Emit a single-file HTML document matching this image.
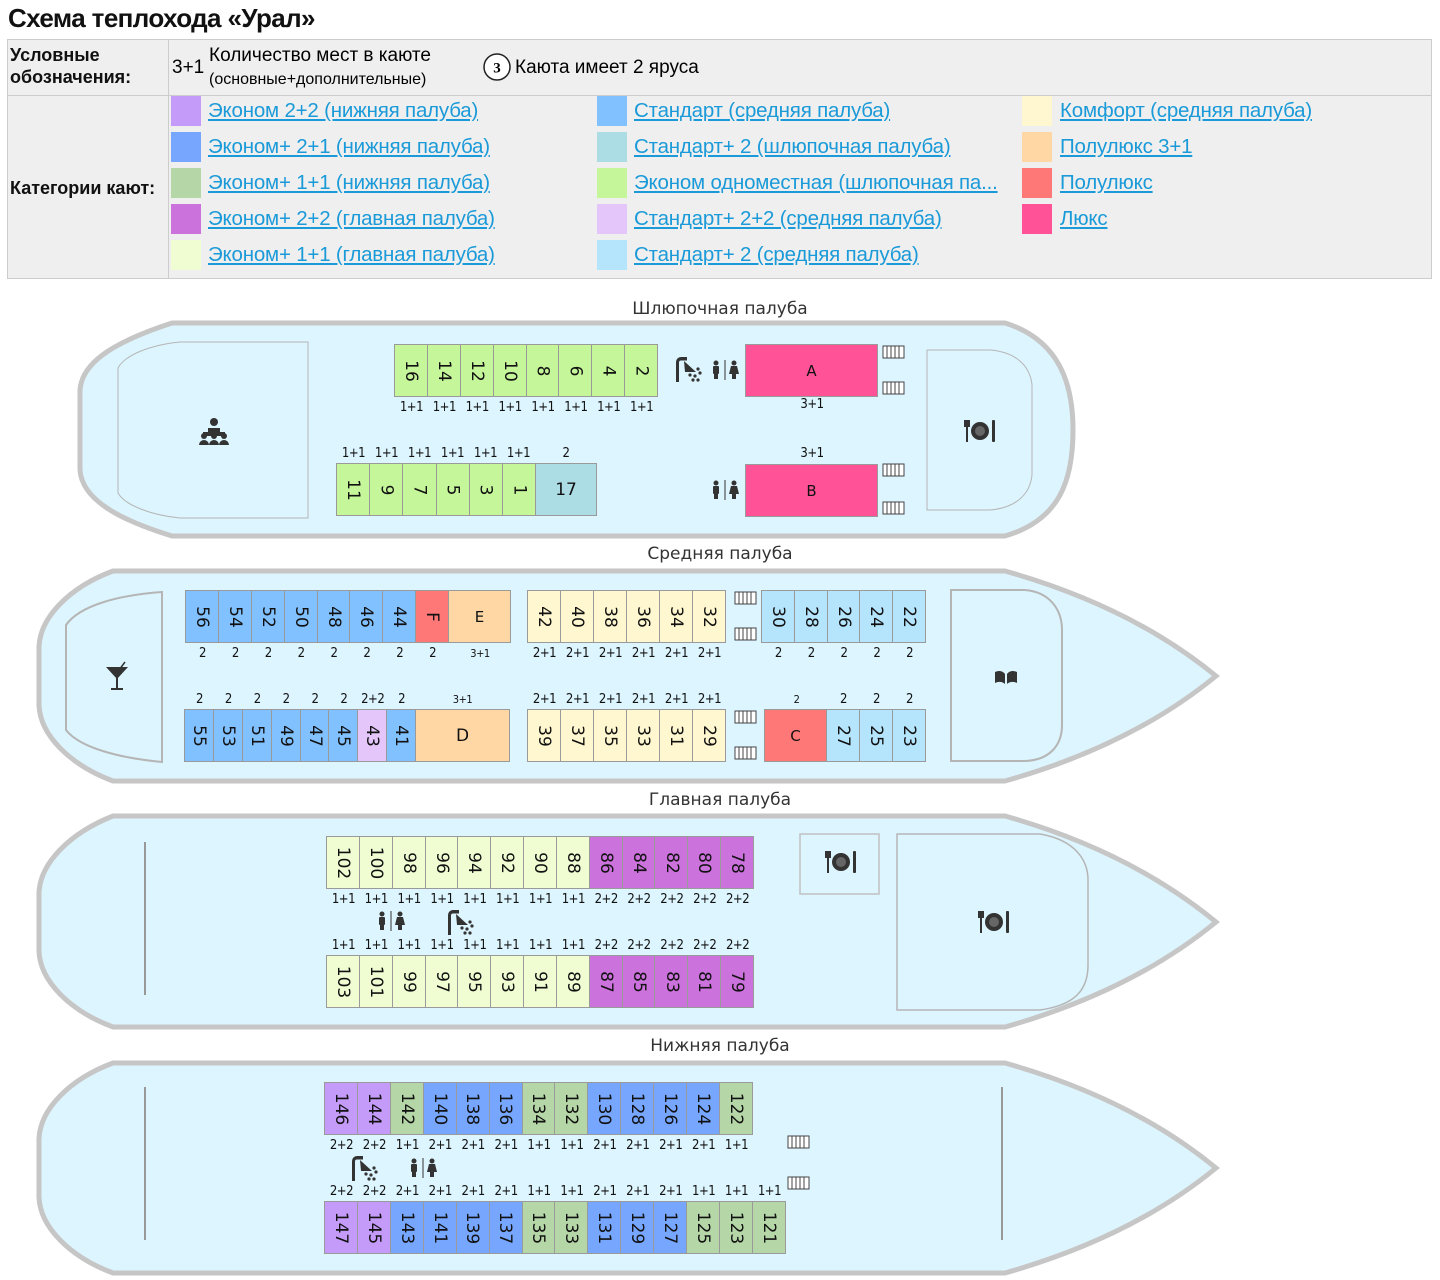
<!DOCTYPE html>
<html><head><meta charset="utf-8">
<style>
*{box-sizing:border-box;margin:0;padding:0}
body{width:1440px;height:1280px;background:#fff;position:relative;font-family:"Liberation Sans","DejaVu Sans",sans-serif;overflow:hidden}
.abs{position:absolute}
h1{position:absolute;left:8px;top:3px;font-size:26px;font-weight:bold;letter-spacing:-0.6px;color:#111}
.tbl{position:absolute;left:7px;top:39px;width:1425px;height:240px;background:#efefef;border:1px solid #ccc}
.hl{position:absolute;font-size:18px;font-weight:bold;color:#111;line-height:22px}
.lg{position:absolute;font-size:20.5px;color:#1a9ad8;text-decoration:underline;white-space:nowrap;letter-spacing:-0.2px}
.sw{position:absolute;width:30px;height:30px}
.row{position:absolute;display:flex;height:53px}
.row div{flex:1 1 0;border:1px solid #9a9a9a;margin-left:-1px;display:flex;align-items:center;justify-content:center;font:17px "DejaVu Sans",sans-serif;color:#111;overflow:hidden}
.row div span{display:inline-block;transform:rotate(90deg)}
.lab{position:absolute;display:flex;height:16px}
.lab span{flex:1 1 0;text-align:center;font:13px "DejaVu Sans Condensed","DejaVu Sans",sans-serif;letter-spacing:-0.5px;color:#111}
.dt{position:absolute;width:1440px;text-align:center;font:17px "DejaVu Sans",sans-serif;color:#333}
.g{background:#c5f69a}.t{background:#acdde5}.lx{background:#ff5297}.st{background:#82c1ff}.pl{background:#ff7878}.pl3{background:#ffd7a4}.cf{background:#fff7cf}.s2{background:#b5e4fd}.s22{background:#e4c6fb}.e11{background:#f0fdd3}.e22{background:#cc72dc}.p{background:#c49bf9}.b{background:#77a6ff}.gr{background:#b5d6a7}
</style></head><body>
<h1>Схема теплохода «Урал»</h1>
<div class="tbl"></div>
<div class="abs" style="left:7px;top:95px;width:1425px;border-top:1px solid #ccc"></div>
<div class="abs" style="left:168px;top:39px;height:240px;border-left:1px solid #ccc"></div>
<div class="hl" style="left:10px;top:44px">Условные<br>обозначения:</div>
<div class="abs" style="left:172px;top:57px;font-size:19px">3+1</div>
<div class="abs" style="left:209px;top:45px;font-size:19px">Количество мест в каюте</div>
<div class="abs" style="left:209px;top:71px;font-size:16px">(основные+дополнительные)</div>
<svg class="abs" style="left:482px;top:52px" width="30" height="30"><circle cx="15" cy="15" r="13" fill="#fff" stroke="#222" stroke-width="1.5"/><text x="15" y="20.5" text-anchor="middle" font-size="15" font-weight="bold" font-family="Liberation Serif">3</text></svg>
<div class="abs" style="left:515px;top:57px;font-size:19px">Каюта имеет 2 яруса</div>
<div class="hl" style="left:10px;top:177px">Категории кают:</div>

<div class="sw p" style="left:171px;top:96px"></div><div class="lg" style="left:208px;top:99px">Эконом 2+2 (нижняя палуба)</div>
<div class="sw b" style="left:171px;top:132px"></div><div class="lg" style="left:208px;top:135px">Эконом+ 2+1 (нижняя палуба)</div>
<div class="sw gr" style="left:171px;top:168px"></div><div class="lg" style="left:208px;top:171px">Эконом+ 1+1 (нижняя палуба)</div>
<div class="sw e22" style="left:171px;top:204px"></div><div class="lg" style="left:208px;top:207px">Эконом+ 2+2 (главная палуба)</div>
<div class="sw e11" style="left:171px;top:240px"></div><div class="lg" style="left:208px;top:243px">Эконом+ 1+1 (главная палуба)</div>

<div class="sw st" style="left:597px;top:96px"></div><div class="lg" style="left:634px;top:99px">Стандарт (средняя палуба)</div>
<div class="sw t" style="left:597px;top:132px"></div><div class="lg" style="left:634px;top:135px">Стандарт+ 2 (шлюпочная палуба)</div>
<div class="sw g" style="left:597px;top:168px"></div><div class="lg" style="left:634px;top:171px">Эконом одноместная (шлюпочная па...</div>
<div class="sw s22" style="left:597px;top:204px"></div><div class="lg" style="left:634px;top:207px">Стандарт+ 2+2 (средняя палуба)</div>
<div class="sw s2" style="left:597px;top:240px"></div><div class="lg" style="left:634px;top:243px">Стандарт+ 2 (средняя палуба)</div>

<div class="sw cf" style="left:1022px;top:96px"></div><div class="lg" style="left:1060px;top:99px">Комфорт (средняя палуба)</div>
<div class="sw pl3" style="left:1022px;top:132px"></div><div class="lg" style="left:1060px;top:135px">Полулюкс 3+1</div>
<div class="sw pl" style="left:1022px;top:168px"></div><div class="lg" style="left:1060px;top:171px">Полулюкс</div>
<div class="sw lx" style="left:1022px;top:204px"></div><div class="lg" style="left:1060px;top:207px">Люкс</div>

<svg class="abs" style="left:0;top:0" width="1440" height="1280">
<defs>
<g id="stairs"><rect x="0" y="0" width="21" height="12" fill="#fff" stroke="#444" stroke-width="1"/><path d="M4 0V12M8 0V12M12 0V12M16 0V12" stroke="#444" stroke-width="1"/></g>
<g id="wc" fill="#333"><circle cx="5" cy="3" r="2.5"/><rect x="2" y="6" width="6" height="8" rx="1"/><rect x="3" y="13" width="4" height="6"/><rect x="13.5" y="0" width="1" height="20"/><circle cx="23" cy="3" r="2.5"/><path d="M20 6h6l2 8h-10z"/><rect x="21" y="13" width="4" height="6"/></g>
<g id="shower" fill="#333"><path d="M3 26V6a5 5 0 0 1 5-5h6v3.5h-6a2 2 0 0 0-2 2v19.5z"/><path d="M11 5l12 11-11 0z"/><circle cx="17" cy="19" r="1.6"/><circle cx="22" cy="20" r="1.6"/><circle cx="27" cy="17" r="1.6"/><circle cx="25" cy="13" r="1.6"/><circle cx="20" cy="24" r="1.6"/><circle cx="25" cy="24" r="1.6"/></g>
<g id="dine" fill="#333"><rect x="0" y="0" width="2" height="22"/><rect x="-2" y="0" width="6" height="7"/><circle cx="14" cy="11" r="9"/><circle cx="14" cy="11" r="5" fill="#666"/><rect x="26" y="0" width="3" height="22" rx="1"/></g>
</defs>
<path d="M172 323 L1005 323 C1060 340 1073 385 1073 430 C1073 480 1060 520 1005 536 L172 536 C120 520 82 500 80 470 L80 390 C82 360 120 340 172 323Z" fill="#ddf5fe" stroke="#c6c6c6" stroke-width="5"/>
<path d="M308 342 L180 342 C150 345 125 355 118 368 L118 493 C125 505 150 515 180 518 L308 518Z" fill="#ddf5fe" stroke="#b5b5b5" stroke-width="1"/>
<path d="M927 350 L990 350 C1015 352 1030 365 1032 385 L1032 475 C1030 495 1015 508 990 510 L927 510Z" fill="#ddf5fe" stroke="#b5b5b5" stroke-width="1"/>
<g fill="#333"><circle cx="214" cy="422" r="4"/><path d="M203 432h22v4h-22z M208 428h12v4h-12z"/><circle cx="204" cy="436" r="3"/><circle cx="214" cy="436" r="3"/><circle cx="224" cy="436" r="3"/><path d="M199 445a5 5 0 0 1 10 0zM209 445a5 5 0 0 1 10 0zM219 445a5 5 0 0 1 10 0z"/></g>
<use href="#dine" x="966" y="420"/>
<use href="#shower" x="673" y="356"/>
<use href="#wc" x="711" y="360"/>
<use href="#wc" x="711" y="480"/>
<use href="#stairs" x="883" y="346"/><use href="#stairs" x="883" y="382"/><use href="#stairs" x="883" y="464"/><use href="#stairs" x="883" y="502"/>
<path d="M113 571 L1005 571 C1090 595 1160 630 1216 676 C1160 722 1090 757 1005 781 L113 781 C70 765 40 735 39 705 L39 647 C40 617 70 587 113 571Z" fill="#ddf5fe" stroke="#c6c6c6" stroke-width="5"/>
<path d="M162 592 C120 595 80 605 66 625 L66 730 C80 748 120 758 162 762Z" fill="#ddf5fe" stroke="#b5b5b5" stroke-width="2"/>
<path d="M951 590 L1025 590 C1050 592 1062 610 1062 630 L1062 725 C1062 745 1050 760 1025 761 L951 761Z" fill="#ddf5fe" stroke="#b5b5b5" stroke-width="2"/>
<g fill="#333"><path d="M106 667h22l-11 12z"/><rect x="116" y="678" width="2" height="10"/><rect x="111" y="688" width="12" height="2"/><path d="M119 670l6-8" stroke="#333" stroke-width="1.5"/></g>
<g fill="#333"><path d="M995 672c4-2 8-1 10 2v10c-2-2-6-3-10-1z"/><path d="M1017 672c-4-2-8-1-10 2v10c2-2 6-3 10-1z"/></g>
<use href="#stairs" x="735" y="592"/><use href="#stairs" x="735" y="628"/><use href="#stairs" x="735" y="711"/><use href="#stairs" x="735" y="747"/>
<path d="M113 816 L1005 816 C1090 840 1160 876 1216 922 C1160 968 1090 1003 1005 1027 L113 1027 C70 1011 40 981 39 951 L39 893 C40 863 70 833 113 816Z" fill="#ddf5fe" stroke="#c6c6c6" stroke-width="5"/>
<rect x="144" y="842" width="2" height="153" fill="#999"/>
<rect x="800" y="834" width="79" height="60" fill="#ddf5fe" stroke="#c0c0c0" stroke-width="1.5"/>
<path d="M897 834 L1040 834 C1075 840 1088 860 1088 880 L1088 965 C1088 990 1075 1005 1040 1010 L897 1010Z" fill="#ddf5fe" stroke="#b5b5b5" stroke-width="1.5"/>
<use href="#dine" x="827" y="851"/>
<use href="#dine" x="980" y="911"/>
<use href="#wc" x="377" y="911"/>
<use href="#shower" x="445" y="909"/>
<path d="M113 1063 L1005 1063 C1090 1087 1160 1122 1216 1168 C1160 1214 1090 1249 1005 1273 L113 1273 C70 1257 40 1227 39 1197 L39 1139 C40 1109 70 1079 113 1063Z" fill="#ddf5fe" stroke="#c6c6c6" stroke-width="5"/>
<rect x="144" y="1087" width="2" height="153" fill="#999"/>
<rect x="1001" y="1087" width="2" height="153" fill="#999"/>
<use href="#shower" x="349" y="1155"/>
<use href="#wc" x="409" y="1158"/>
<use href="#stairs" x="788" y="1136"/><use href="#stairs" x="788" y="1177"/>
</svg>

<div class="dt" style="top:299px">Шлюпочная палуба</div>
<div class="dt" style="top:544px">Средняя палуба</div>
<div class="dt" style="top:790px">Главная палуба</div>
<div class="dt" style="top:1036px">Нижняя палуба</div>

<div class="row" style="left:395px;top:344px;width:263px"><div class="g"><span>16</span></div><div class="g"><span>14</span></div><div class="g"><span>12</span></div><div class="g"><span>10</span></div><div class="g"><span>8</span></div><div class="g"><span>6</span></div><div class="g"><span>4</span></div><div class="g"><span>2</span></div></div>
<div class="lab" style="left:395px;top:400px;width:263px"><span>1+1</span><span>1+1</span><span>1+1</span><span>1+1</span><span>1+1</span><span>1+1</span><span>1+1</span><span>1+1</span></div>
<div class="lab" style="left:337px;top:446px;width:198px"><span>1+1</span><span>1+1</span><span>1+1</span><span>1+1</span><span>1+1</span><span>1+1</span></div>
<div class="lab" style="left:535px;top:446px;width:62px"><span>2</span></div>
<div class="row" style="left:337px;top:463px;width:260px"><div class="g"><span>11</span></div><div class="g"><span>9</span></div><div class="g"><span>7</span></div><div class="g"><span>5</span></div><div class="g"><span>3</span></div><div class="g"><span>1</span></div><div class="t" style="flex:none;width:62px">17</div></div>
<div class="row" style="left:746px;top:344px;width:132px"><div class="lx" style="font-size:15px">A</div></div>
<div class="row" style="left:746px;top:464px;width:132px"><div class="lx" style="font-size:15px">B</div></div>
<div class="lab" style="left:746px;top:397px;width:132px"><span>3+1</span></div>
<div class="lab" style="left:746px;top:446px;width:132px"><span>3+1</span></div>

<div class="row" style="left:186px;top:590px;width:325px"><div class="st"><span>56</span></div><div class="st"><span>54</span></div><div class="st"><span>52</span></div><div class="st"><span>50</span></div><div class="st"><span>48</span></div><div class="st"><span>46</span></div><div class="st"><span>44</span></div><div class="pl"><span>F</span></div><div class="pl3" style="flex:none;width:63px;font-size:15px">E</div></div>
<div class="lab" style="left:186px;top:646px;width:263px"><span>2</span><span>2</span><span>2</span><span>2</span><span>2</span><span>2</span><span>2</span><span>2</span></div>
<div class="lab" style="left:449px;top:647px;width:62px"><span style="font-size:11px">3+1</span></div>
<div class="row" style="left:528px;top:590px;width:198px"><div class="cf"><span>42</span></div><div class="cf"><span>40</span></div><div class="cf"><span>38</span></div><div class="cf"><span>36</span></div><div class="cf"><span>34</span></div><div class="cf"><span>32</span></div></div>
<div class="lab" style="left:528px;top:646px;width:198px"><span>2+1</span><span>2+1</span><span>2+1</span><span>2+1</span><span>2+1</span><span>2+1</span></div>
<div class="row" style="left:762px;top:590px;width:164px"><div class="s2"><span>30</span></div><div class="s2"><span>28</span></div><div class="s2"><span>26</span></div><div class="s2"><span>24</span></div><div class="s2"><span>22</span></div></div>
<div class="lab" style="left:762px;top:646px;width:164px"><span>2</span><span>2</span><span>2</span><span>2</span><span>2</span></div>
<div class="lab" style="left:185px;top:692px;width:231px"><span>2</span><span>2</span><span>2</span><span>2</span><span>2</span><span>2</span><span>2+2</span><span>2</span></div>
<div class="lab" style="left:415px;top:693px;width:95px"><span style="font-size:11px">3+1</span></div>
<div class="row" style="left:185px;top:709px;width:325px"><div class="st"><span>55</span></div><div class="st"><span>53</span></div><div class="st"><span>51</span></div><div class="st"><span>49</span></div><div class="st"><span>47</span></div><div class="st"><span>45</span></div><div class="s22"><span>43</span></div><div class="st"><span>41</span></div><div class="pl3" style="flex:none;width:95px">D</div></div>
<div class="lab" style="left:528px;top:692px;width:198px"><span>2+1</span><span>2+1</span><span>2+1</span><span>2+1</span><span>2+1</span><span>2+1</span></div>
<div class="row" style="left:528px;top:709px;width:198px"><div class="cf"><span>39</span></div><div class="cf"><span>37</span></div><div class="cf"><span>35</span></div><div class="cf"><span>33</span></div><div class="cf"><span>31</span></div><div class="cf"><span>29</span></div></div>
<div class="lab" style="left:765px;top:693px;width:63px"><span style="font-size:11px">2</span></div>
<div class="lab" style="left:827px;top:692px;width:99px"><span>2</span><span>2</span><span>2</span></div>
<div class="row" style="left:765px;top:709px;width:161px"><div class="pl" style="flex:none;width:63px;font-size:15px">C</div><div class="s2"><span>27</span></div><div class="s2"><span>25</span></div><div class="s2"><span>23</span></div></div>

<div class="row" style="left:327px;top:836px;width:427px"><div class="e11"><span>102</span></div><div class="e11"><span>100</span></div><div class="e11"><span>98</span></div><div class="e11"><span>96</span></div><div class="e11"><span>94</span></div><div class="e11"><span>92</span></div><div class="e11"><span>90</span></div><div class="e11"><span>88</span></div><div class="e22"><span>86</span></div><div class="e22"><span>84</span></div><div class="e22"><span>82</span></div><div class="e22"><span>80</span></div><div class="e22"><span>78</span></div></div>
<div class="lab" style="left:327px;top:892px;width:427px"><span>1+1</span><span>1+1</span><span>1+1</span><span>1+1</span><span>1+1</span><span>1+1</span><span>1+1</span><span>1+1</span><span>2+2</span><span>2+2</span><span>2+2</span><span>2+2</span><span>2+2</span></div>
<div class="lab" style="left:327px;top:938px;width:427px"><span>1+1</span><span>1+1</span><span>1+1</span><span>1+1</span><span>1+1</span><span>1+1</span><span>1+1</span><span>1+1</span><span>2+2</span><span>2+2</span><span>2+2</span><span>2+2</span><span>2+2</span></div>
<div class="row" style="left:327px;top:955px;width:427px"><div class="e11"><span>103</span></div><div class="e11"><span>101</span></div><div class="e11"><span>99</span></div><div class="e11"><span>97</span></div><div class="e11"><span>95</span></div><div class="e11"><span>93</span></div><div class="e11"><span>91</span></div><div class="e11"><span>89</span></div><div class="e22"><span>87</span></div><div class="e22"><span>85</span></div><div class="e22"><span>83</span></div><div class="e22"><span>81</span></div><div class="e22"><span>79</span></div></div>

<div class="row" style="left:325px;top:1082px;width:428px"><div class="p"><span>146</span></div><div class="p"><span>144</span></div><div class="gr"><span>142</span></div><div class="b"><span>140</span></div><div class="b"><span>138</span></div><div class="b"><span>136</span></div><div class="gr"><span>134</span></div><div class="gr"><span>132</span></div><div class="b"><span>130</span></div><div class="b"><span>128</span></div><div class="b"><span>126</span></div><div class="b"><span>124</span></div><div class="gr"><span>122</span></div></div>
<div class="lab" style="left:325px;top:1138px;width:428px"><span>2+2</span><span>2+2</span><span>1+1</span><span>2+1</span><span>2+1</span><span>2+1</span><span>1+1</span><span>1+1</span><span>2+1</span><span>2+1</span><span>2+1</span><span>2+1</span><span>1+1</span></div>
<div class="lab" style="left:325px;top:1184px;width:461px"><span>2+2</span><span>2+2</span><span>2+1</span><span>2+1</span><span>2+1</span><span>2+1</span><span>1+1</span><span>1+1</span><span>2+1</span><span>2+1</span><span>2+1</span><span>1+1</span><span>1+1</span><span>1+1</span></div>
<div class="row" style="left:325px;top:1201px;width:461px"><div class="p"><span>147</span></div><div class="p"><span>145</span></div><div class="b"><span>143</span></div><div class="b"><span>141</span></div><div class="b"><span>139</span></div><div class="b"><span>137</span></div><div class="gr"><span>135</span></div><div class="gr"><span>133</span></div><div class="b"><span>131</span></div><div class="b"><span>129</span></div><div class="b"><span>127</span></div><div class="gr"><span>125</span></div><div class="gr"><span>123</span></div><div class="gr"><span>121</span></div></div>
</body></html>
